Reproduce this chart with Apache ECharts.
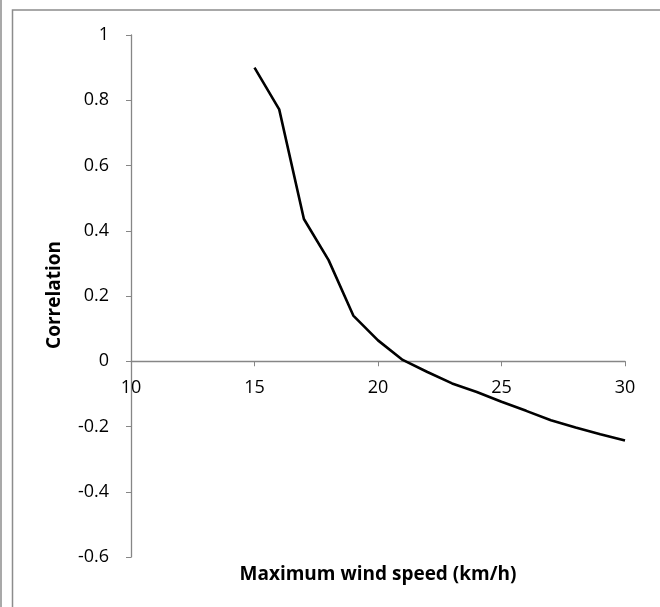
<!DOCTYPE html>
<html><head><meta charset="utf-8">
<script src="https://cdn.jsdelivr.net/npm/echarts@6/dist/echarts.min.js"></script>
<style>html,body{margin:0;padding:0;background:#fff}#c{width:660px;height:607px}</style>
</head><body><div id="c"></div>
<script>
const windSpeed = [15,16,17,18,19,20,21,22,23,24,25,26,27,28,29,30];
const correlation = [0.90,0.772,0.436,0.31,0.14,0.064,0.004,-0.033,-0.068,-0.094,-0.124,-0.152,-0.181,-0.203,-0.224,-0.243];
const xTitle = 'Maximum wind speed (km/h)';
const yTitle = 'Correlation';
const yMin = -0.6, yMax = 1;

const chart = echarts.init(document.getElementById('c'));
const font = 'Open Sans, Liberation Sans, sans-serif';
const gridTop = 35, gridBottom = 50, H = 607;
const plotH = H - gridTop - gridBottom;
const zeroOffset = -plotH * (0 - yMin) / (yMax - yMin);
chart.setOption({
  animation:false,
  grid:{left:131,right:35,top:gridTop,bottom:gridBottom},
  xAxis:{type:'value',min:10,max:30,interval:5,offset:zeroOffset,
    axisLine:{onZero:false,lineStyle:{color:'#868686',width:1.3}},
    axisTick:{show:true,length:5,lineStyle:{color:'#868686'}},
    axisLabel:{color:'#000',fontSize:18,fontFamily:font,margin:18},
    splitLine:{show:false}},
  yAxis:{type:'value',min:yMin,max:yMax,interval:0.2,
    axisLine:{show:true,onZero:false,lineStyle:{color:'#868686',width:1.3}},
    axisTick:{show:true,length:5,lineStyle:{color:'#868686'}},
    axisLabel:{color:'#000',fontSize:18,fontFamily:font,margin:22,
      formatter:v=>{const r=Math.round(v*10)/10;return r===0?'0':(r===1?'1':String(r));}},
    splitLine:{show:false}},
  series:[{type:'line',data:windSpeed.map((x,i)=>[x,correlation[i]]),
    symbol:'none',lineStyle:{color:'#000',width:2.6}}],
  graphic:[
    {type:'line',shape:{x1:1,y1:0,x2:1,y2:607},style:{stroke:'#8c8c8c',lineWidth:1.5}},
    {type:'polyline',shape:{points:[[12.5,607],[12.5,10],[660,10]]},style:{stroke:'#8c8c8c',lineWidth:1.5,fill:null}},
    {type:'text',x:378,y:575,style:{text:xTitle,font:'bold 19px '+font,fill:'#000',align:'center',verticalAlign:'middle'}},
    {type:'text',x:55,y:295,rotation:Math.PI/2,style:{text:yTitle,font:'bold 19px '+font,fill:'#000',align:'center',verticalAlign:'middle'}}
  ]
});
</script></body></html>
